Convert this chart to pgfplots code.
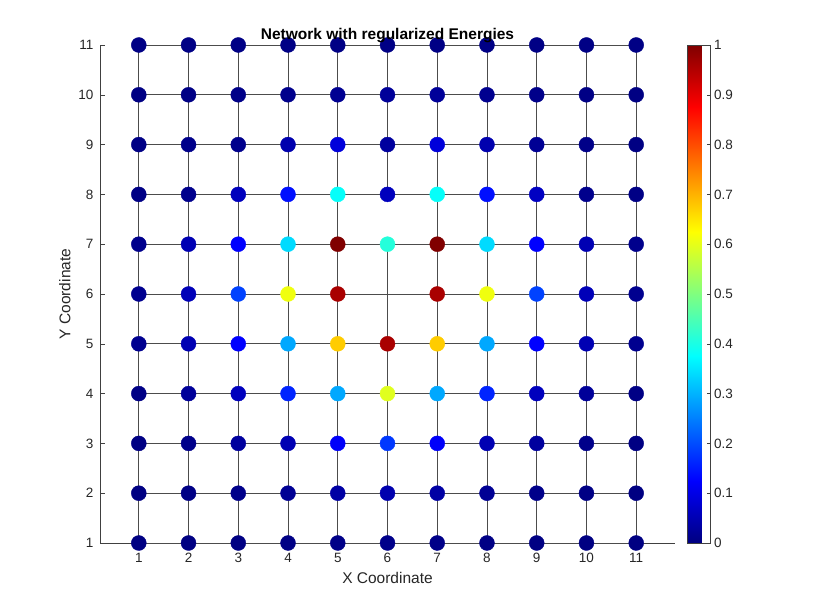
\documentclass[border=0pt]{standalone}
\usepackage{fontspec}
\setmainfont{Liberation Sans}
\usepackage{pgfplots}
\usepackage{pgfplotstable}
\pgfplotsset{compat=1.18}
\pgfplotstableread{
x y c
1 11 0.005
2 11 0.005
3 11 0.005
4 11 0.005
5 11 0.005
6 11 0.005
7 11 0.005
8 11 0.005
9 11 0.005
10 11 0.005
11 11 0.005
1 10 0.003
2 10 0.005
3 10 0.008
4 10 0.012
5 10 0.018
6 10 0.025
7 10 0.025
8 10 0.015
9 10 0.01
10 10 0.005
11 10 0.003
1 9 0.005
2 9 0.01
3 9 0.012
4 9 0.045
5 9 0.09
6 9 0.03
7 9 0.09
8 9 0.045
9 9 0.02
10 9 0.008
11 9 0.003
1 8 0.005
2 8 0.012
3 8 0.06
4 8 0.14
5 8 0.38
6 8 0.06
7 8 0.38
8 8 0.14
9 8 0.065
10 8 0.012
11 8 0.005
1 7 0.012
2 7 0.05
3 7 0.125
4 7 0.34
5 7 1.0
6 7 0.41
7 7 1.0
8 7 0.34
9 7 0.125
10 7 0.05
11 7 0.012
1 6 0.015
2 6 0.055
3 6 0.19
4 6 0.61
5 6 0.96
7 6 0.96
8 6 0.61
9 6 0.19
10 6 0.055
11 6 0.015
1 5 0.015
2 5 0.05
3 5 0.125
4 5 0.29
5 5 0.675
6 5 0.96
7 5 0.675
8 5 0.29
9 5 0.125
10 5 0.05
11 5 0.015
1 4 0.005
2 4 0.025
3 4 0.06
4 4 0.16
5 4 0.29
6 4 0.595
7 4 0.29
8 4 0.16
9 4 0.06
10 4 0.025
11 4 0.005
1 3 0.003
2 3 0.01
3 3 0.03
4 3 0.05
5 3 0.12
6 3 0.18
7 3 0.12
8 3 0.05
9 3 0.03
10 3 0.01
11 3 0.003
1 2 0.002
2 2 0.005
3 2 0.01
4 2 0.02
5 2 0.035
6 2 0.045
7 2 0.035
8 2 0.02
9 2 0.01
10 2 0.005
11 2 0.002
1 1 0.002
2 1 0.002
3 1 0.003
4 1 0.005
5 1 0.008
6 1 0.01
7 1 0.008
8 1 0.005
9 1 0.003
10 1 0.002
11 1 0.002
}\nodes
\begin{document}
\begin{tikzpicture}
\useasboundingbox (0,0) rectangle (814pt,610pt);
\begin{axis}[
  at={(100pt,67pt)}, anchor=south west,
  scale only axis, width=575pt, height=498pt,
  xmin=0.22, xmax=11.78, ymin=1, ymax=11,
  clip=false,
  axis x line*=bottom, axis y line*=left,
  axis line style={black!75, line width=0.5pt},
  tick align=inside,
  major tick length=5pt,
  tick style={black!75, line width=0.5pt},
  xtick={1,2,...,11}, ytick={1,2,...,11},
  /pgf/number format/assume math mode=true,
  ticklabel style={font=\fontsize{13.5}{16}\selectfont, text=black!85},
  xticklabel style={yshift=-7pt},
  yticklabel style={xshift=-3pt},
  xlabel={X Coordinate}, ylabel={Y Coordinate},
  every axis x label/.style={at={(axis description cs:0.5,0)}, anchor=center, yshift=-35pt, font=\fontsize{15.5}{18}\selectfont, text=black!85},
  every axis y label/.style={at={(axis description cs:-0.061,0.5)}, rotate=90, anchor=center, font=\fontsize{15.5}{18}\selectfont, text=black!85},
  title={\textbf{Network with regularized Energies}},
  title style={at={(0.5,1)}, anchor=center, yshift=3pt, font=\fontsize{15.5}{18}\selectfont},
  colormap/jet,
  point meta min=0, point meta max=1,
  colorbar,
  colorbar style={
    at={(parent axis.north east)}, anchor=north west, xshift=4pt,
    scale only axis, width=23pt, height=498pt,
    ytick={0,0.1,0.2,0.3,0.4,0.5,0.6,0.7,0.8,0.9,1},
    yticklabels={0,0.1,0.2,0.3,0.4,0.5,0.6,0.7,0.8,0.9,1},
    ytick pos=right, tick align=inside, major tick length=4pt,
    axis line style={black!75}, tick style={black!75},
    yticklabel style={font=\fontsize{13.5}{16}\selectfont, text=black!85},
  },
]
\pgfplotsset{edge/.style={black!70, line width=0.7pt, no marks, forget plot}}
% horizontal edges
\addplot[edge] coordinates {(1,1) (11,1)};
\addplot[edge] coordinates {(1,2) (11,2)};
\addplot[edge] coordinates {(1,3) (11,3)};
\addplot[edge] coordinates {(1,4) (11,4)};
\addplot[edge] coordinates {(1,5) (11,5)};
\addplot[edge] coordinates {(1,6) (11,6)};
\addplot[edge] coordinates {(1,7) (11,7)};
\addplot[edge] coordinates {(1,8) (11,8)};
\addplot[edge] coordinates {(1,9) (11,9)};
\addplot[edge] coordinates {(1,10) (11,10)};
\addplot[edge] coordinates {(1,11) (11,11)};
% vertical edges
\addplot[edge] coordinates {(1,1) (1,11)};
\addplot[edge] coordinates {(2,1) (2,11)};
\addplot[edge] coordinates {(3,1) (3,11)};
\addplot[edge] coordinates {(4,1) (4,11)};
\addplot[edge] coordinates {(5,1) (5,11)};
\addplot[edge] coordinates {(6,1) (6,7)};
\addplot[edge] coordinates {(6,8) (6,11)};
\addplot[edge] coordinates {(7,1) (7,11)};
\addplot[edge] coordinates {(8,1) (8,11)};
\addplot[edge] coordinates {(9,1) (9,11)};
\addplot[edge] coordinates {(10,1) (10,11)};
\addplot[edge] coordinates {(11,1) (11,11)};
% nodes
\addplot[scatter, only marks, mark=*, mark size=7.5pt,
  scatter/use mapped color={draw=mapped color, fill=mapped color},
  point meta=explicit] table[x=x, y=y, meta=c] {\nodes};
\end{axis}
\end{tikzpicture}
\end{document}
